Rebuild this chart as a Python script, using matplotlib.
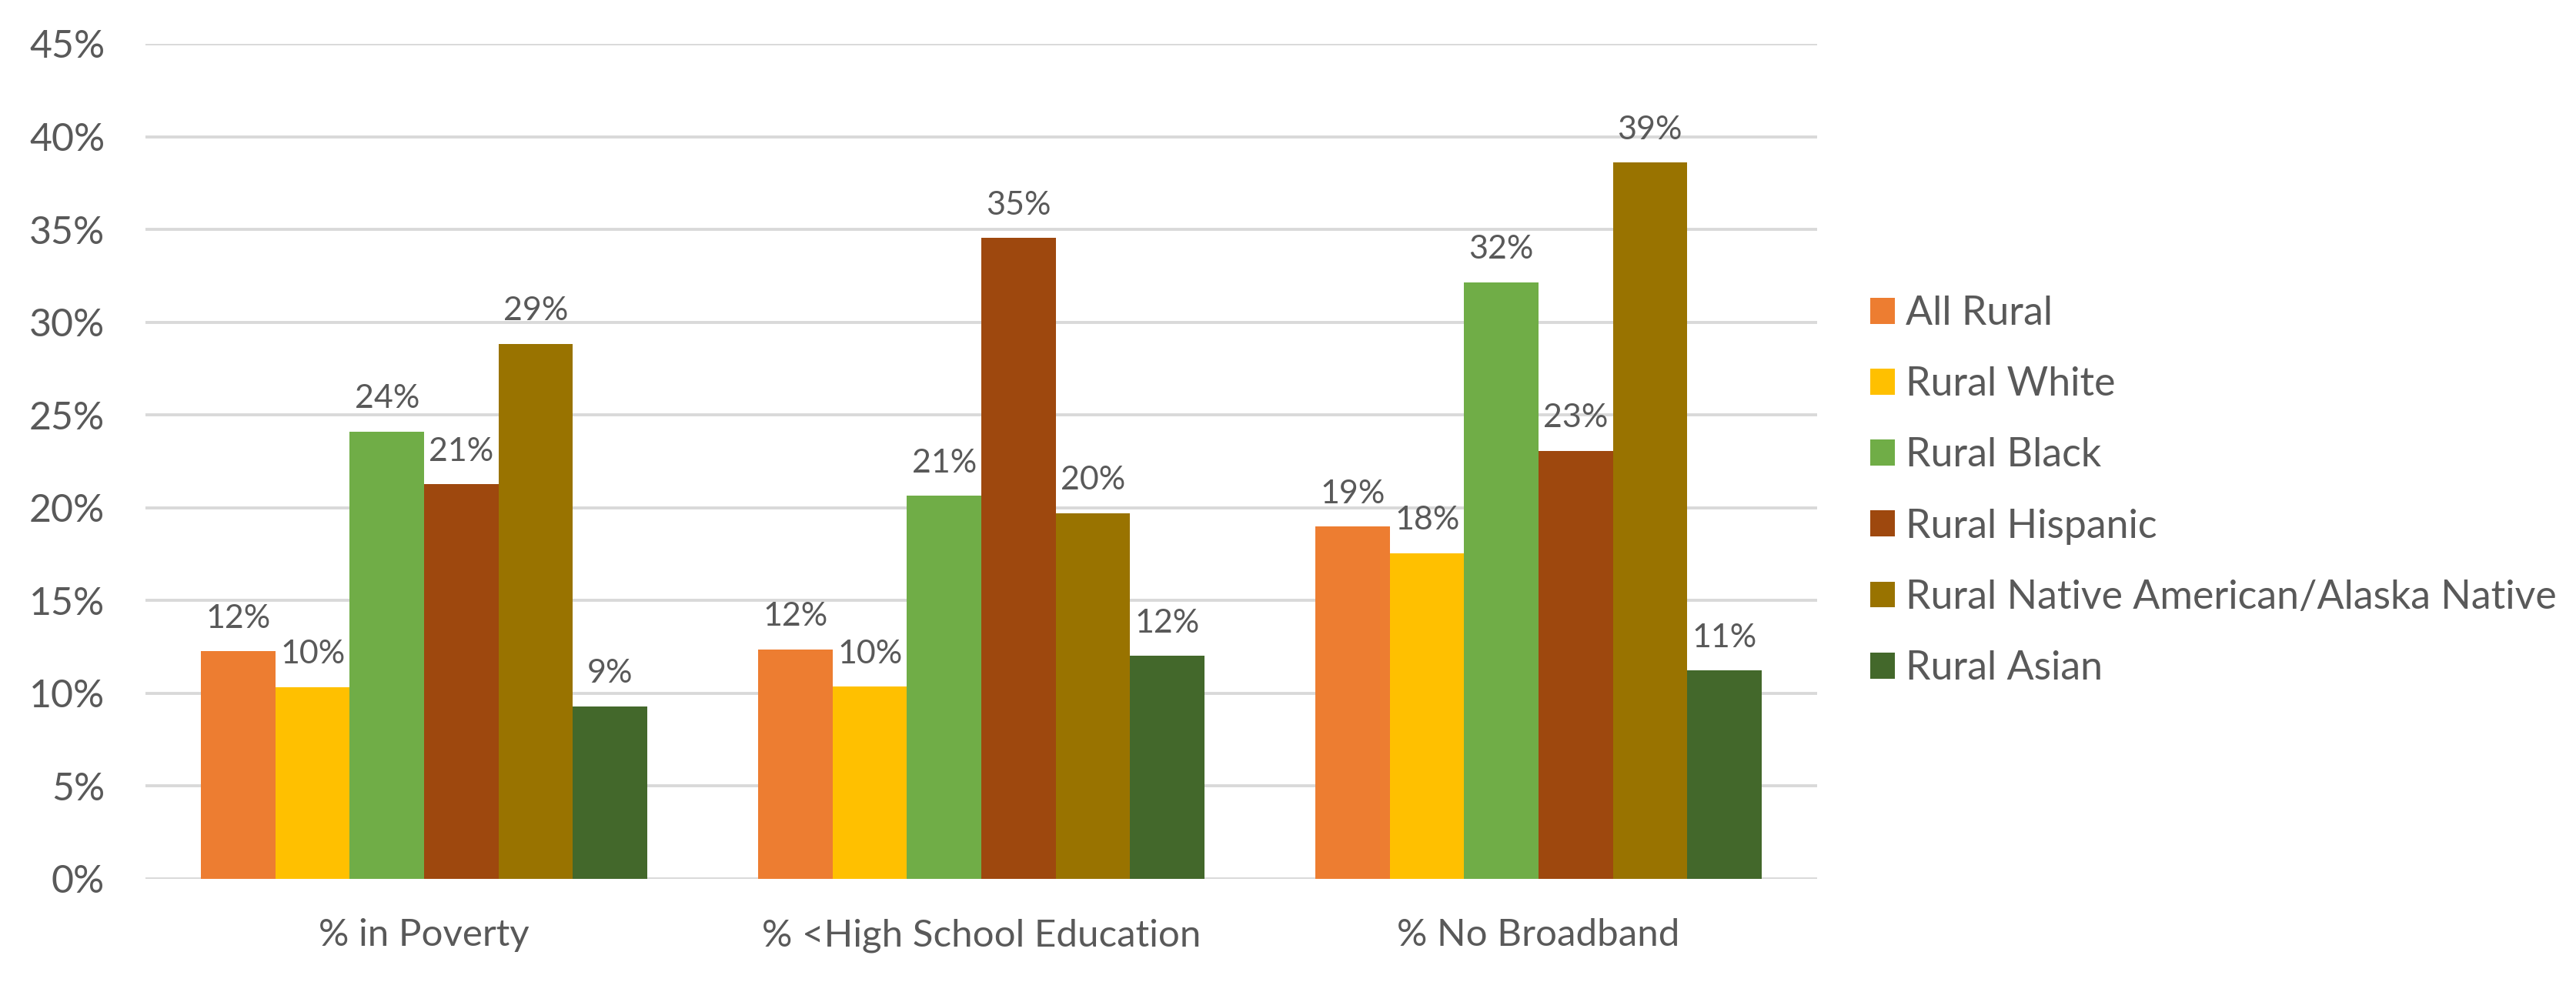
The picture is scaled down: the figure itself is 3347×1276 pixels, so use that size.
import numpy as np
import matplotlib.pyplot as plt

plt.rcParams['font.family'] = ['Lato', 'DejaVu Sans']

categories = ["% in Poverty", "% <High School Education", "% No Broadband"]
groups = ["All Rural", "Rural White", "Rural Black", "Rural Hispanic",
          "Rural Native American/Alaska Native", "Rural Asian"]
# values per group, one per category (fractions)
all_rural = [0.1227, 0.1237, 0.1898]
rural_white = [0.1034, 0.1036, 0.1755]
rural_black = [0.2410, 0.2065, 0.3216]
rural_hispanic = [0.2127, 0.3454, 0.2308]
rural_native = [0.2883, 0.1970, 0.3861]
rural_asian = [0.0930, 0.1202, 0.1122]
series = [all_rural, rural_white, rural_black, rural_hispanic, rural_native, rural_asian]
colors = ["#ED7D31", "#FFC000", "#70AD47", "#9E480E", "#997300", "#43682B"]
yticks = np.arange(0, 0.46, 0.05)

text_col = "#595959"
grid_col = "#D9D9D9"

fig = plt.figure(figsize=(33.48, 12.76), dpi=100)
ax = fig.add_axes([189/3348, 1-1142/1276, (2361-189)/3348, (1142-57)/1276])

x = np.arange(len(categories))
w = 0.8 / len(series)
for i, (vals, c, name) in enumerate(zip(series, colors, groups)):
    pos = x + (i - 2.5) * w
    bars = ax.bar(pos, vals, width=w, color=c, label=name, zorder=3)
    for b, v in zip(bars, vals):
        ax.annotate(f"{round(v*100)}%", (b.get_x() + b.get_width()/2, v),
                    xytext=(0, 22), textcoords="offset points",
                    ha="center", va="baseline", fontsize=31, color=text_col)

ax.set_xlim(-0.5, 2.5)
ax.set_ylim(0, 0.45)
ax.set_yticks(yticks)
ax.set_yticklabels([f"{round(t*100)}%" for t in yticks])
ax.set_xticks(x)
ax.set_xticklabels(categories)
ax.tick_params(axis="y", length=0, pad=38, labelsize=36, labelcolor=text_col)
ax.tick_params(axis="x", length=0, pad=37, labelsize=35.5, labelcolor=text_col)
ax.grid(axis="y", color=grid_col, linewidth=2.8, zorder=0)
for s in ax.spines.values():
    s.set_visible(False)

fig.legend(loc="center left", bbox_to_anchor=(2430/3348, 1-638/1276),
           frameon=False, fontsize=37.4, labelcolor=text_col,
           handlelength=0.62, handleheight=0.62, handletextpad=0.27,
           labelspacing=0.87, borderaxespad=0, borderpad=0)

fig.savefig("out.png", dpi=100, facecolor="white")
